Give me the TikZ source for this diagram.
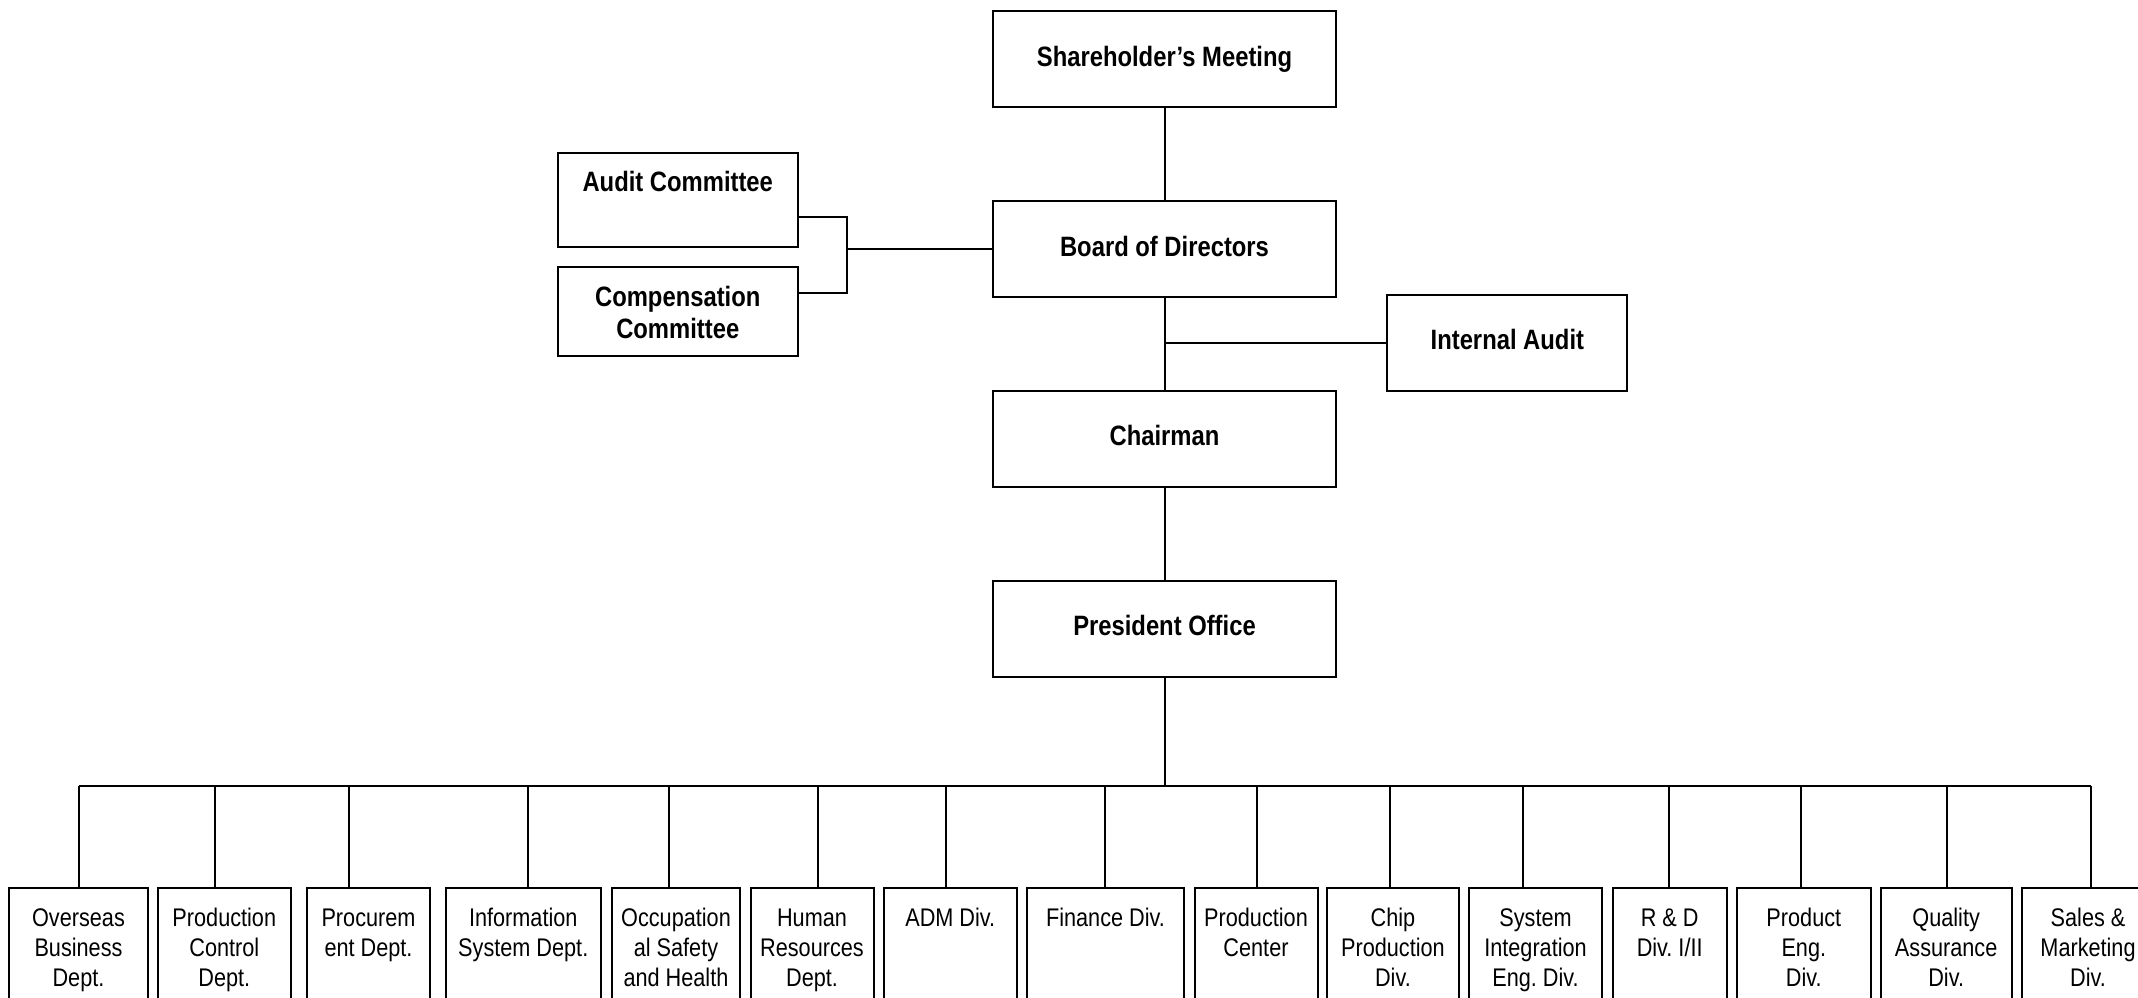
\documentclass[tikz,border=0pt]{standalone}
\usepackage{fontspec}
\setmainfont[FakeStretch=0.85]{Liberation Sans}
\newcommand\fsA{\rule{0pt}{24pt}}
\newcommand\fsB{\rule{0pt}{22pt}}
\frenchspacing
\begin{document}
\begin{tikzpicture}[x=1pt,y=-1pt,
  box/.style={draw, line width=2pt, rectangle, inner sep=0pt, outer sep=0pt},
  conn/.style={line width=2pt},
  toptxt/.style={anchor=north, align=center, inner sep=0pt, font=\fontsize{28}{32}\selectfont\bfseries},
  bottxt/.style={anchor=north, align=center, inner sep=0pt, font=\fontsize{25.5}{30}\selectfont}]
\fill[white] (0,0) rectangle (2138,998);
\useasboundingbox (0,0) rectangle (2138,998);
\clip (0,0) rectangle (2138,998);

% top boxes
\node[box, minimum width=343pt, minimum height=95.5pt] (sh) at (1164.5,58.75) {};
\node[box, minimum width=343pt, minimum height=96pt] (bd) at (1164.5,249) {};
\node[box, minimum width=343pt, minimum height=96pt] (ch) at (1164.5,439) {};
\node[box, minimum width=343pt, minimum height=96pt] (pr) at (1164.5,629) {};
\node[box, minimum width=240.5pt, minimum height=94pt] (ac) at (677.75,200) {};
\node[box, minimum width=240.5pt, minimum height=89pt] (cc) at (677.75,311.5) {};
\node[box, minimum width=240pt, minimum height=95.7pt] (ia) at (1507.35,342.85) {};

\node[toptxt] (tsh) at (1164.5,42.7) {\fsA Shareholder’s Meeting};
\node[toptxt] (tbd) at (1164.5,232.7) {\fsA Board of Directors};
\node[toptxt] (tac) at (677.75,167.7) {\fsA Audit Committee};
\node[toptxt] (tcc) at (677.75,282.7) {\fsA Compensation\\Committee};
\node[toptxt] (tia) at (1507.35,325.3) {\fsA Internal Audit};
\node[toptxt] (tch) at (1164.5,421) {\fsA Chairman};
\node[toptxt] (tpr) at (1164.5,611) {\fsA President Office};

% top connectors
\draw[conn] (sh.south) -- (bd.north);
\draw[conn] (bd.south) -- (ch.north);
\draw[conn] (ch.south) -- (pr.north);
\coordinate (bt) at (847,217);
\coordinate (bb) at (847,293);
\draw[conn] (bt -| ac.east) -- (bt) -- (bb) -- (bb -| cc.east);
\draw[conn] (bd.west) -- (bd.west -| bt);
\draw[conn] (ia.west) -- (ia.west -| bd.south);

% bus
\coordinate (busL) at (79.4,786);
\coordinate (busR) at (2090.8,786);
\draw[conn] (busL) -- (busR);
\draw[conn] (pr.south) -- (pr.south |- busL);

% bottom boxes
\foreach \n/\cx/\w/\sx/\txt in {
  1/78.5/139/79.4/{Overseas\\Business\\Dept.},
  2/224.3/132.6/215/{Production\\Control\\Dept.},
  3/368.5/123/349/{Procurem\\ent Dept.},
  4/523.25/154.5/527.5/{Information\\System Dept.},
  5/676/128.5/669/{Occupation\\al Safety\\and Health},
  6/812/123/817.5/{Human\\Resources\\Dept.},
  7/950.25/133.1/946/{ADM Div.},
  8/1105.5/157/1105/{Finance Div.},
  9/1256/123/1257/{Production\\Center},
  10/1392.9/131.8/1389.6/{Chip\\Production\\Div.},
  11/1535.5/133/1523/{System\\Integration\\Eng. Div.},
  12/1669.65/113.9/1668.7/{R \& D\\Div. I/II},
  13/1803.8/133.6/1801.4/{Product\\Eng.\\Div.},
  14/1946.15/131.3/1947/{Quality\\Assurance\\Div.},
  15/2088/132.4/2090.8/{Sales \&\\Marketing\\Div.}}{
  \node[box, minimum width=\w pt, minimum height=140pt] (b\n) at (\cx,958) {};
  \node[bottxt] (t\n) at (\cx,904) {\fsB\txt};
  \coordinate (s\n) at (\sx,786);
  \draw[conn] (s\n) -- (s\n |- b\n.north);
}
\end{tikzpicture}
\end{document}
